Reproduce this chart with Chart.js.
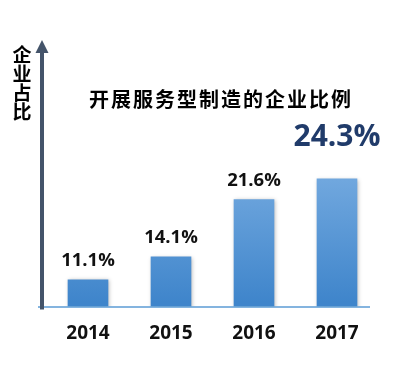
<!DOCTYPE html>
<html>
<head>
<meta charset="utf-8">
<script src="https://cdn.jsdelivr.net/npm/chart.js@4/dist/chart.umd.min.js"></script>
<style>
html,body{margin:0;padding:0;background:#fff;}
#wrap{width:417px;height:379px;position:relative;}
</style>
</head>
<body>
<div id="wrap"><canvas id="c" width="417" height="379"></canvas></div>
<script>
const categories = ['2014', '2015', '2016', '2017'];
const shareValues = [11.1, 14.1, 21.6, 24.3];
const valueLabels = ['11.1%', '14.1%', '21.6%', '24.3%'];
const chartTitle = '开展服务型制造的企业比例';
const yAxisTitle = '企业占比';

const decorPlugin = {
  id: 'decor',
  beforeDatasetsDraw(chart) {
    const ctx = chart.ctx;
    ctx.save();
    ctx.shadowColor = 'rgba(0,0,0,0.28)';
    ctx.shadowBlur = 4;
    ctx.shadowOffsetX = 1;
    ctx.shadowOffsetY = 1;
  },
  afterDatasetsDraw(chart) {
    const ctx = chart.ctx;
    ctx.restore();
    const area = chart.chartArea;
    ctx.save();
    // baseline
    ctx.strokeStyle = '#5B9BD5';
    ctx.lineWidth = 1.5;
    ctx.beginPath();
    ctx.moveTo(38, area.bottom + 0.5);
    ctx.lineTo(370, area.bottom + 0.5);
    ctx.stroke();
    // y axis with arrow
    ctx.strokeStyle = '#44546A';
    ctx.fillStyle = '#44546A';
    ctx.lineWidth = 4;
    ctx.beginPath();
    ctx.moveTo(42, area.bottom + 3);
    ctx.lineTo(42, 50);
    ctx.stroke();
    ctx.beginPath();
    ctx.moveTo(42, 40);
    ctx.lineTo(48.5, 53);
    ctx.lineTo(35.5, 53);
    ctx.closePath();
    ctx.fill();
    // y axis title, stacked
    ctx.fillStyle = '#000';
    ctx.font = 'bold 19px "Noto Sans CJK SC"';
    ctx.textAlign = 'center';
    ctx.textBaseline = 'middle';
    const chars = Array.from(yAxisTitle);
    chars.forEach((ch, i) => ctx.fillText(ch, 22, 55 + i * 19));
    // chart title
    ctx.font = 'bold 20px "Noto Sans CJK SC"';
    if ('letterSpacing' in ctx) ctx.letterSpacing = '2px';
    ctx.fillText(chartTitle, 221, 99);
    if ('letterSpacing' in ctx) ctx.letterSpacing = '0px';
    // value labels
    const meta = chart.getDatasetMeta(0);
    meta.data.forEach((bar, i) => {
      const last = i === meta.data.length - 1;
      if (last) {
        ctx.font = 'bold 30px "Open Sans"';
        ctx.fillStyle = '#203B6A';
        ctx.fillText(valueLabels[i], bar.x, bar.y - 41);
      } else {
        ctx.font = 'bold 18.5px "Open Sans"';
        ctx.fillStyle = '#111';
        ctx.fillText(valueLabels[i], bar.x, bar.y - 19);
      }
    });
    ctx.restore();
  }
};

const ctx = document.getElementById('c').getContext('2d');
const grad = ctx.createLinearGradient(0, 180, 0, 302);
grad.addColorStop(0, '#70A7DE');
grad.addColorStop(1, '#3F85CB');

new Chart(ctx, {
  type: 'bar',
  data: {
    labels: categories,
    datasets: [{
      data: shareValues,
      backgroundColor: grad,
      borderWidth: 0,
      barThickness: 40
    }]
  },
  options: {
    responsive: false,
    animation: false,
    layout: { padding: { left: 46.5, right: 38.5, top: 59, bottom: 18.7 } },
    plugins: { legend: { display: false }, tooltip: { enabled: false }, title: { display: false } },
    scales: {
      x: {
        grid: { display: false, drawTicks: false },
        border: { display: false },
        ticks: {
          padding: 15.5,
          color: '#111',
          font: { family: 'Open Sans', size: 19, weight: 'bold' }
        }
      },
      y: {
        display: false,
        min: 7.6,
        max: 40
      }
    }
  },
  plugins: [decorPlugin]
});
</script>
</body>
</html>
